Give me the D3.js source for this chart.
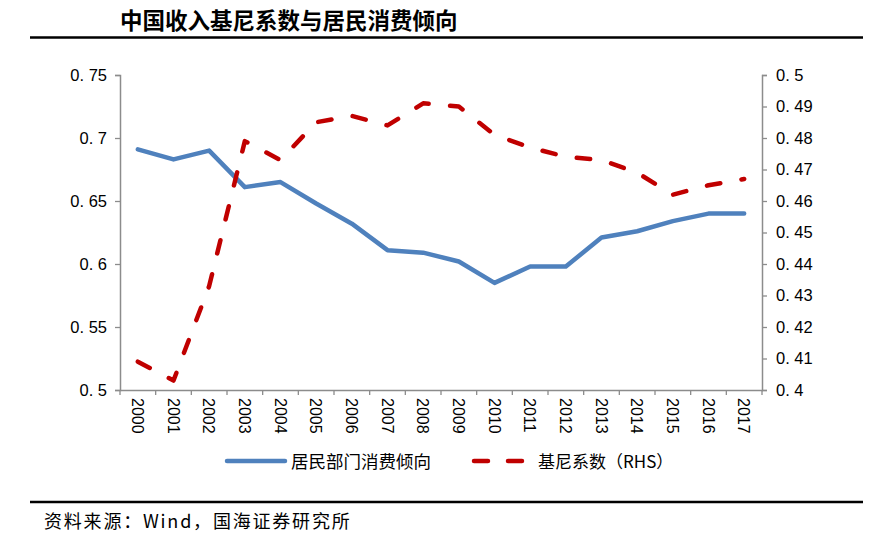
<!DOCTYPE html>
<html><head><meta charset="utf-8">
<script src="https://cdn.jsdelivr.net/npm/d3@7"></script>
<style>
html,body{margin:0;padding:0;background:#fff;}
svg{display:block;}
</style></head>
<body>
<svg id="chart" width="890" height="544"></svg>
<script>
const years = ["2000","2001","2002","2003","2004","2005","2006","2007","2008","2009","2010","2011","2012","2013","2014","2015","2016","2017"];
const consumption = [0.691,0.683,0.690,0.661,0.665,0.648,0.632,0.611,0.609,0.602,0.585,0.598,0.598,0.621,0.626,0.634,0.640,0.640];
const gini = [0.409,0.403,0.433,0.479,0.473,0.485,0.487,0.484,0.491,0.490,0.481,0.477,0.474,0.473,0.469,0.462,0.465,0.467];
const leftTicks = [0.5,0.55,0.6,0.65,0.7,0.75];
const rightTicks = [0.4,0.41,0.42,0.43,0.44,0.45,0.46,0.47,0.48,0.49,0.5];
const title = "中国收入基尼系数与居民消费倾向";
const seriesNames = ["居民部门消费倾向","基尼系数（RHS）"];
const source = "资料来源：Wind，国海证券研究所";

const svg = d3.select("#chart");
const axisColor = "#8c8c8c";
const blue = "#4f81bd";
const red = "#c00000";
const latin = "'Liberation Sans', Arial, sans-serif";
const cjk = "'Noto Sans CJK SC', sans-serif";

const x = d3.scaleBand().domain(years).range([120, 762]);
const yL = d3.scaleLinear().domain([0.5, 0.75]).range([390, 75]);
const yR = d3.scaleLinear().domain([0.4, 0.5]).range([390, 75]);

// title
svg.append("text").attr("x", 120).attr("y", 28.5)
  .attr("font-family", cjk).attr("font-weight", 700).attr("font-size", 22.5)
  .attr("fill", "#000").text(title);
svg.append("line").attr("x1", 30).attr("x2", 863).attr("y1", 37.5).attr("y2", 37.5)
  .attr("stroke", "#000").attr("stroke-width", 2.5);

// left axis
const fmtL = d => d3.format("")(+d.toFixed(2)).replace(".", ". ");
const gL = svg.append("g").attr("transform", "translate(120,0)")
  .call(d3.axisLeft(yL).tickValues(leftTicks).tickSize(5).tickSizeOuter(5).tickPadding(8).tickFormat(fmtL));
// right axis
const gR = svg.append("g").attr("transform", "translate(762,0)")
  .call(d3.axisRight(yR).tickValues(rightTicks).tickSize(5).tickSizeOuter(5).tickPadding(9).tickFormat(fmtL));
// x axis
const gX = svg.append("g").attr("transform", "translate(0,390)")
  .call(d3.axisBottom(x).tickSize(0).tickPadding(0));
gX.selectAll(".tick text").remove();
// boundary ticks
const bounds = years.map(yv => x(yv)).concat([x.range()[1]]);
gX.selectAll("line.b").data(bounds).enter().append("line").attr("class","b")
  .attr("x1", d=>d).attr("x2", d=>d).attr("y1", 0).attr("y2", 5)
  .attr("stroke", axisColor).attr("stroke-width", 1.3);
gX.selectAll("text.yl").data(years).enter().append("text").attr("class","yl")
  .attr("transform", d => `translate(${x(d)+x.bandwidth()/2 - 6},8) rotate(90)`)
  .attr("font-family", latin).attr("font-size", 16).attr("fill", "#000")
  .attr("text-anchor", "start").text(d => d);

[gL, gR, gX].forEach(g => {
  g.selectAll("path.domain").attr("stroke", axisColor).attr("stroke-width", 1.5);
  g.selectAll(".tick line").attr("stroke", axisColor).attr("stroke-width", 1.3);
  g.selectAll(".tick text").attr("font-family", latin).attr("font-size", 16.5).attr("fill", "#000");
});

const cx = d => x(d) + x.bandwidth()/2;
const lineL = d3.line().x((d,i) => cx(years[i])).y(d => yL(d));
const lineR = d3.line().x((d,i) => cx(years[i])).y(d => yR(d));

svg.append("path").datum(consumption).attr("d", lineL)
  .attr("fill", "none").attr("stroke", blue).attr("stroke-width", 4.5)
  .attr("stroke-linejoin", "round").attr("stroke-linecap", "round");
svg.append("path").datum(gini).attr("d", lineR)
  .attr("fill", "none").attr("stroke", red).attr("stroke-width", 4.5)
  .attr("stroke-dasharray", "13.5,21.5").attr("stroke-linejoin", "round").attr("stroke-linecap", "round");

// legend
const lg = svg.append("g");
lg.append("line").attr("x1", 227).attr("x2", 285).attr("y1", 461).attr("y2", 461)
  .attr("stroke", blue).attr("stroke-width", 4.5).attr("stroke-linecap", "round");
lg.append("text").attr("x", 291).attr("y", 467.5).attr("font-family", cjk).attr("font-size", 17.5)
  .attr("fill", "#000").text(seriesNames[0]);
lg.append("line").attr("x1", 474).attr("x2", 525).attr("y1", 461).attr("y2", 461)
  .attr("stroke", red).attr("stroke-width", 4.5).attr("stroke-linecap", "round")
  .attr("stroke-dasharray", "14,20");
lg.append("text").attr("x", 538).attr("y", 467.5).attr("font-family", cjk).attr("font-size", 17)
  .attr("fill", "#000").text(seriesNames[1]);

// bottom line + source
svg.append("line").attr("x1", 30).attr("x2", 863).attr("y1", 502).attr("y2", 502)
  .attr("stroke", "#000").attr("stroke-width", 2.5);
svg.append("text").attr("x", 44).attr("y", 528).attr("font-family", cjk).attr("font-size", 18)
  .attr("letter-spacing", 1.8).attr("fill", "#000").text(source);
</script>
</body></html>
